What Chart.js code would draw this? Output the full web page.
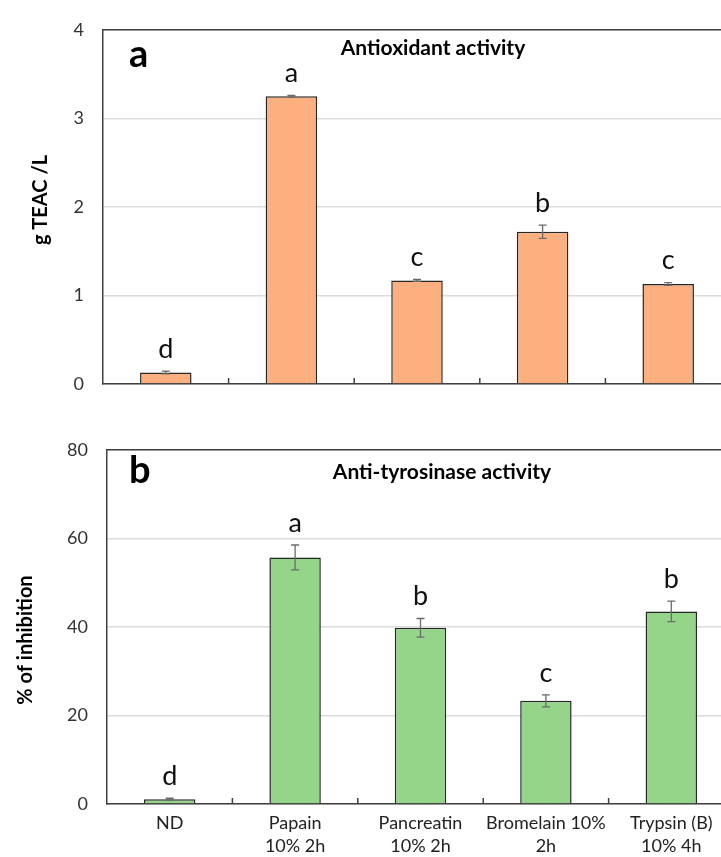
<!DOCTYPE html>
<html>
<head>
<meta charset="utf-8">
<script src="https://cdn.jsdelivr.net/npm/chart.js@4.4.1/dist/chart.umd.min.js"></script>
<style>
  html, body { margin: 0; padding: 0; background: #fff; overflow: hidden; }
  .panel { position: absolute; left: 0; }
</style>
</head>
<body>
<div class="panel" style="top:0"><canvas id="teacChart" width="731" height="420"></canvas></div>
<div class="panel" style="top:420px"><canvas id="inhibChart" width="734" height="437"></canvas></div>
<script>
// categories (enzyme / conditions)
var categories = [['ND'], ['Papain', '10% 2h'], ['Pancreatin', '10% 2h'], ['Bromelain 10%', '2h'], ['Trypsin (B)', '10% 4h']];

// panel a : antioxidant activity (g TEAC / L)
var teacValues = [0.13, 3.25, 1.17, 1.72, 1.13];
var teacErrors = [0.015, 0.01, 0.01, 0.075, 0.015];
var teacLetters = ['d', 'a', 'c', 'b', 'c'];
var teacTicks = [0, 1, 2, 3, 4];

// panel b : anti-tyrosinase activity (% of inhibition)
var inhibValues = [1.1, 55.7, 39.8, 23.3, 43.5];
var inhibErrors = [0.2, 2.8, 2.1, 1.35, 2.3];
var inhibLetters = ['d', 'a', 'b', 'c', 'b'];
var inhibTicks = [0, 20, 40, 60, 80];

var FONT = 'Lato, "Open Sans", sans-serif';

// error bars, letters, small category ticks, frame and texts
var decorPlugin = {
    id: 'decor',
    afterDatasetsDraw: function (chart, args, opts) {
        var ctx = chart.ctx;
        var x = chart.scales.x, y = chart.scales.y;
        var area = chart.chartArea;
        var meta = chart.getDatasetMeta(0);
        ctx.save();
        // error bars
        ctx.strokeStyle = '#6b6b6b';
        ctx.lineWidth = 1.3;
        opts.values.forEach(function (v, i) {
            var cx = meta.data[i].x;
            var yTop = y.getPixelForValue(v + opts.errors[i]);
            var yBot = y.getPixelForValue(v - opts.errors[i]);
            ctx.beginPath();
            ctx.moveTo(cx, yTop); ctx.lineTo(cx, yBot);
            ctx.moveTo(cx - 4, yTop); ctx.lineTo(cx + 4, yTop);
            ctx.moveTo(cx - 4, yBot); ctx.lineTo(cx + 4, yBot);
            ctx.stroke();
            // letters of significance
            ctx.fillStyle = '#111';
            ctx.font = '27px ' + FONT;
            ctx.textAlign = 'center';
            ctx.textBaseline = 'middle';
            ctx.fillText(opts.letters[i], cx, yTop - 22);
        });
        // small ticks between categories (inside)
        ctx.strokeStyle = '#404040';
        ctx.lineWidth = 1.5;
        for (var i = 0; i < opts.values.length - 1; i++) {
            var bx = (x.getPixelForTick(i) + x.getPixelForTick(i + 1)) / 2;
            ctx.beginPath();
            ctx.moveTo(bx, area.bottom);
            ctx.lineTo(bx, area.bottom - 6);
            ctx.stroke();
        }
        ctx.restore();
    },
    afterDraw: function (chart, args, opts) {
        var ctx = chart.ctx;
        var area = chart.chartArea;
        ctx.save();
        // top frame line
        ctx.strokeStyle = '#404040';
        ctx.lineWidth = 1.5;
        ctx.beginPath();
        ctx.moveTo(area.left, area.top);
        ctx.lineTo(chart.width, area.top);
        ctx.stroke();
        // panel letter
        ctx.fillStyle = '#000';
        ctx.font = 'bold 38px ' + FONT;
        ctx.textAlign = 'left';
        ctx.textBaseline = 'alphabetic';
        ctx.fillText(opts.panel, 129, opts.panelY);
        // panel title
        ctx.font = 'bold 21px ' + FONT;
        ctx.textAlign = 'center';
        ctx.textBaseline = 'middle';
        ctx.fillText(opts.title, opts.titleX, opts.titleY);
        // y axis title
        ctx.font = 'bold 20px ' + FONT;
        ctx.translate(opts.yTitleX, opts.yTitleY);
        ctx.rotate(-Math.PI / 2);
        ctx.fillText(opts.yTitle, 0, 0);
        ctx.restore();
    }
};

function makeChart(id, cfg) {
    return new Chart(document.getElementById(id), {
        type: 'bar',
        data: {
            labels: categories,
            datasets: [{
                data: cfg.values,
                backgroundColor: cfg.color,
                borderColor: '#262626',
                borderWidth: 1.5,
                borderSkipped: 'bottom',
                barPercentage: 0.41,
                categoryPercentage: 1
            }]
        },
        options: {
            responsive: false,
            animation: false,
            layout: { padding: { top: cfg.padTop, left: 0, right: 0, bottom: 0 } },
            plugins: {
                legend: { display: false },
                tooltip: { enabled: false },
                decor: cfg.decor
            },
            scales: {
                x: {
                    grid: { display: true, drawOnChartArea: false, drawTicks: false, color: 'rgba(0,0,0,0)' },
                    border: { display: true, color: '#404040', width: 1.5 },
                    ticks: {
                        display: cfg.showLabels,
                        color: '#222',
                        padding: 8,
                        font: { family: FONT, size: 18, lineHeight: 1.25 },
                        maxRotation: 0,
                        autoSkip: false
                    },
                    afterFit: function (scale) { scale.height = cfg.xHeight; }
                },
                y: {
                    min: cfg.ticks[0],
                    max: cfg.ticks[cfg.ticks.length - 1],
                    ticks: {
                        stepSize: cfg.ticks[1] - cfg.ticks[0],
                        color: '#333',
                        padding: 19,
                        font: { family: FONT, size: 18 }
                    },
                    grid: { color: '#dcdcdc', lineWidth: 1.5, drawTicks: false },
                    border: { display: true, color: '#404040', width: 1.5 },
                    afterFit: function (scale) { scale.width = cfg.yWidth; }
                }
            }
        },
        plugins: [decorPlugin]
    });
}

makeChart('teacChart', {
    values: teacValues,
    ticks: teacTicks,
    color: '#FDB07F',
    padTop: 20,
    xHeight: 36,
    yWidth: 103,
    showLabels: false,
    decor: {
        values: teacValues, errors: teacErrors, letters: teacLetters,
        panel: 'a', panelY: 67,
        title: 'Antioxidant activity', titleX: 433, titleY: 48,
        yTitle: 'g TEAC /L', yTitleX: 41, yTitleY: 200
    }
});

makeChart('inhibChart', {
    values: inhibValues,
    ticks: inhibTicks,
    color: '#94D58A',
    padTop: 18,
    xHeight: 53,
    yWidth: 107,
    showLabels: true,
    decor: {
        values: inhibValues, errors: inhibErrors, letters: inhibLetters,
        panel: 'b', panelY: 63,
        title: 'Anti-tyrosinase activity', titleX: 442, titleY: 52,
        yTitle: '% of inhibition', yTitleX: 26, yTitleY: 220
    }
});
</script>
</body>
</html>
